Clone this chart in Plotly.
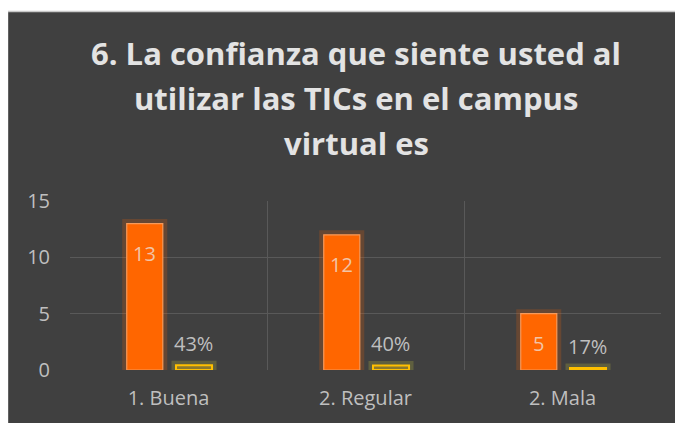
import plotly.graph_objects as go

categories = ["1. Buena", "2. Regular", "2. Mala"]
counts = [13, 12, 5]
shares = [0.43, 0.40, 0.17]
y_ticks = [0, 5, 10, 15]
title_lines = ["6. La confianza que siente usted al", "utilizar las TICs en el campus", "virtual es"]

FONT = "Open Sans"
BG = "#404040"
TXT = "#BFBFBF"

# the page body has an 8px margin, so figure coords = page coords - 8
OFF = 8
W, H = 683 - OFF, 423 - OFF
L, R, T, B = 70 - OFF, 22, 201 - OFF, 53
PW, PH = W - L - R, H - T - B

def px_x(px):  # page pixel -> paper
    return (px - OFF - L) / PW

def px_y(py):
    return (H - B - (py - OFF)) / PH

bw = 0.183
off_o = -0.212
off_y = 0.038

fig = go.Figure()
# glow layers
fig.add_trace(go.Bar(x=categories, y=counts, offset=off_o, width=bw,
                     marker=dict(color="rgba(0,0,0,0)", line=dict(color="rgba(255,102,0,0.2)", width=9)),
                     hoverinfo="skip", showlegend=False))
fig.add_trace(go.Bar(x=categories, y=shares, offset=off_y, width=bw,
                     marker=dict(color="rgba(0,0,0,0)", line=dict(color="rgba(220,220,60,0.2)", width=9)),
                     hoverinfo="skip", showlegend=False))
# main bars
fig.add_trace(go.Bar(x=categories, y=counts, offset=off_o, width=bw, name="Cantidad",
                     marker=dict(color="#FF6600", line=dict(color="#F79A5A", width=1.2)),
                     showlegend=False))
fig.add_trace(go.Bar(x=categories, y=shares, offset=off_y, width=bw, name="Porcentaje",
                     marker=dict(color="rgba(255,192,0,0.28)", line=dict(color="#FFC000", width=2)),
                     showlegend=False))

annotations = []
for c, v in zip(categories, counts):
    annotations.append(dict(x=c, y=v, xref="x", yref="y", text=str(v), showarrow=False,
                            xshift=-24, yshift=-30, yanchor="middle",
                            font=dict(family=FONT, size=20, color="#F2C4A6")))
for c, v in zip(categories, shares):
    annotations.append(dict(x=c, y=v, xref="x", yref="y", text=f"{v:.0%}", showarrow=False,
                            xshift=25, yshift=22, yanchor="middle",
                            font=dict(family=FONT, size=20, color=TXT)))
for line, py in zip(title_lines, [53, 98, 143]):
    annotations.append(dict(x=px_x(356), y=px_y(py), xref="paper", yref="paper", text=f"<b>{line}</b>",
                            showarrow=False, xanchor="center", yanchor="middle",
                            font=dict(family=FONT, size=31, color="#E3E3E3")))

shapes = [dict(type="rect", xref="paper", yref="paper", layer="below",
               x0=px_x(7.5), x1=px_x(720), y0=px_y(460), y1=px_y(11.5),
               fillcolor=BG, line=dict(color="#C8C8C8", width=1.5))]

fig.update_layout(
    width=W, height=H,
    margin=dict(l=L, r=R, t=T, b=B),
    paper_bgcolor="white", plot_bgcolor="rgba(0,0,0,0)",
    barmode="overlay",
    annotations=annotations, shapes=shapes,
    font=dict(family=FONT, color=TXT),
    xaxis=dict(showgrid=True, tickson="boundaries", gridcolor="#595959", gridwidth=1.2,
               showline=False, zeroline=False, ticks="",
               tickfont=dict(family=FONT, size=20, color=TXT), ticklabelstandoff=14,
               range=[-0.5, 2.5]),
    yaxis=dict(range=[0, 15], tickvals=y_ticks, showgrid=True, gridcolor="#595959", gridwidth=1.2,
               zeroline=False, showline=False, ticks="",
               tickfont=dict(family=FONT, size=20, color=TXT), ticklabelstandoff=19),
)

fig.write_html("out.html")
